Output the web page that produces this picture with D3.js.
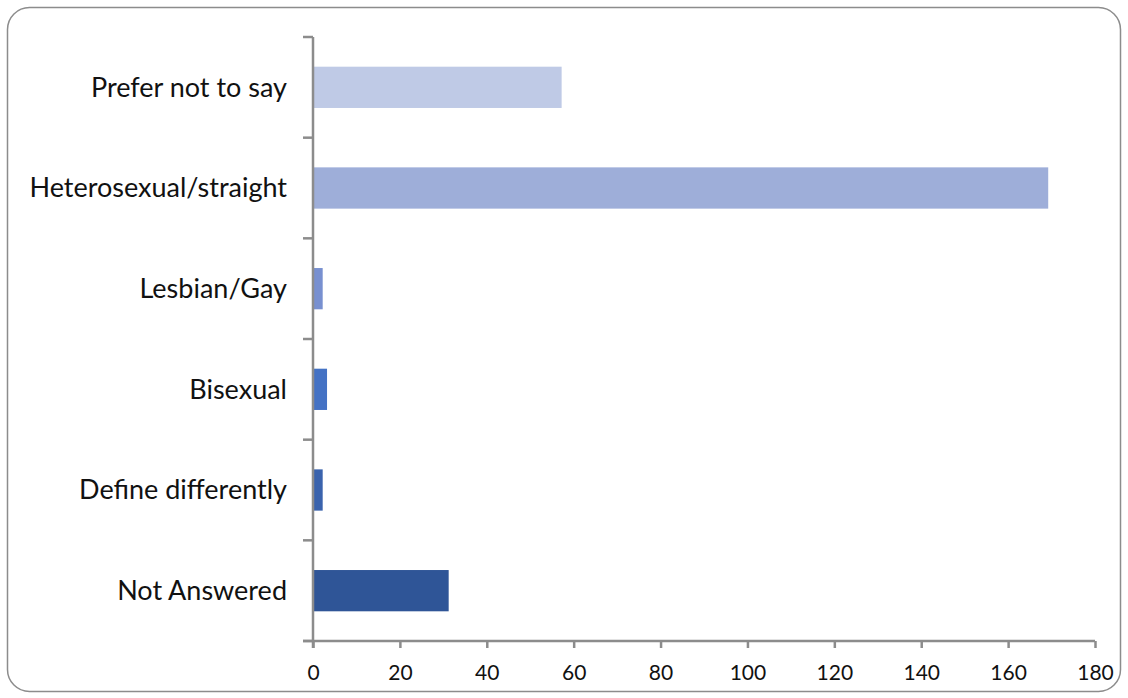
<!DOCTYPE html>
<html>
<head>
<meta charset="utf-8">
<script src="https://cdn.jsdelivr.net/npm/d3@7"></script>
<style>
  body { margin: 0; background: #fff; }
  svg { display: block; font-family: Lato, "Open Sans", sans-serif; }
</style>
</head>
<body>
<svg id="canvas" width="1128" height="698"></svg>
<script>
// categories top to bottom
const categorias = ["Prefer not to say", "Heterosexual/straight", "Lesbian/Gay", "Bisexual", "Define differently", "Not Answered"]
const valores = [57, 169, 2, 3, 2, 31]
const colores = ["#bfcae6", "#9eaed9", "#7890d0", "#4472c4", "#3a63ad", "#2f5597"]
const ticksX = [0, 20, 40, 60, 80, 100, 120, 140, 160, 180]

let canvas = d3.select("#canvas")

// marco redondeado
canvas.append("rect")
    .attr("x", 7.5).attr("y", 7.5)
    .attr("width", 1113).attr("height", 684)
    .attr("rx", 22).attr("ry", 22)
    .attr("fill", "#fff")
    .attr("stroke", "#8c8c8c")
    .attr("stroke-width", 1.5)

const izq = 313, der = 1095, arriba = 37, abajo = 641

const x = d3.scaleLinear().domain([0, 180]).range([izq, der])
const y = d3.scaleBand().domain(categorias).range([arriba, abajo]).paddingInner(0.59).paddingOuter(0.295)

// barras
canvas.selectAll(".barra")
    .data(categorias)
    .enter()
    .append("rect")
    .attr("class", "barra")
    .attr("x", x(0) + 1)
    .attr("y", d => y(d))
    .attr("width", (d, i) => x(valores[i]) - x(0))
    .attr("height", y.bandwidth())
    .attr("fill", (d, i) => colores[i])

const gris = "#8c8c8c"

// eje x
const ejeX = canvas.append("g")
    .attr("transform", `translate(0,${abajo})`)
    .call(d3.axisBottom(x).tickValues(ticksX).tickSize(7).tickPadding(17).tickSizeOuter(0))
ejeX.select(".domain").attr("stroke", gris).attr("stroke-width", 2.5)
    .attr("d", `M${izq - 10},0H${der}`)
ejeX.selectAll(".tick line").attr("stroke", gris).attr("stroke-width", 2.5)
ejeX.selectAll(".tick text").attr("font-size", 21).attr("fill", "#111").attr("font-family", "Lato, sans-serif")

// eje y: ticks between categories
const bordes = d3.range(categorias.length + 1).map(i => arriba + i * (abajo - arriba) / categorias.length)
const ejeY = canvas.append("g")
ejeY.append("line")
    .attr("x1", izq).attr("x2", izq)
    .attr("y1", arriba).attr("y2", abajo + 7)
    .attr("stroke", gris).attr("stroke-width", 2.5)
ejeY.selectAll(".tk")
    .data(bordes)
    .enter()
    .append("line")
    .attr("class", "tk")
    .attr("x1", izq - 10).attr("x2", izq)
    .attr("y1", d => d).attr("y2", d => d)
    .attr("stroke", gris).attr("stroke-width", 2.5)

canvas.selectAll(".etiqueta")
    .data(categorias)
    .enter()
    .append("text")
    .attr("class", "etiqueta")
    .attr("x", 287)
    .attr("y", d => y(d) + y.bandwidth() / 2)
    .attr("dy", "0.35em")
    .attr("text-anchor", "end")
    .attr("font-size", 27)
    .attr("fill", "#111")
    .text(d => d)
</script>
</body>
</html>
